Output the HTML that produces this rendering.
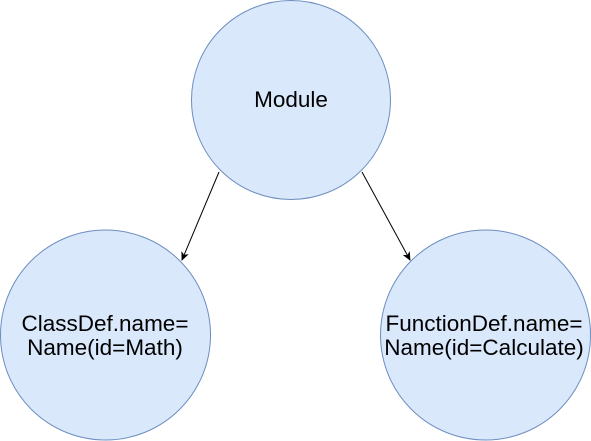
<!DOCTYPE html>
<html><head><style>html,body{margin:0;padding:0;background:#fff;width:591px;height:441px;overflow:hidden}</style></head>
<body>
<svg width="591" height="441" xmlns="http://www.w3.org/2000/svg" font-family="Liberation Sans, sans-serif" font-size="22.5">
<defs><marker id="a" markerWidth="10" markerHeight="10" refX="8" refY="5" orient="auto" markerUnits="userSpaceOnUse"><path d="M0,1 L9,5 L0,9 L2.5,5 Z" fill="#000"/></marker></defs>
<circle cx="291" cy="100" r="99.5" fill="#dae8fc" stroke="#6c8ebf"/>
<circle cx="105.5" cy="335" r="105" fill="#dae8fc" stroke="#6c8ebf"/>
<circle cx="485.5" cy="335" r="105" fill="#dae8fc" stroke="#6c8ebf"/>
<line x1="219" y1="172" x2="182" y2="260" stroke="#000" marker-end="url(#a)"/>
<line x1="362" y1="172" x2="410" y2="260" stroke="#000" marker-end="url(#a)"/>
<text x="291" y="107" text-anchor="middle">Module</text>
<text x="105" y="331" text-anchor="middle">ClassDef.name=</text>
<text x="105" y="355" text-anchor="middle">Name(id=Math)</text>
<text x="484" y="331" text-anchor="middle">FunctionDef.name=</text>
<text x="484" y="355" text-anchor="middle">Name(id=Calculate)</text>
</svg>
</body></html>
